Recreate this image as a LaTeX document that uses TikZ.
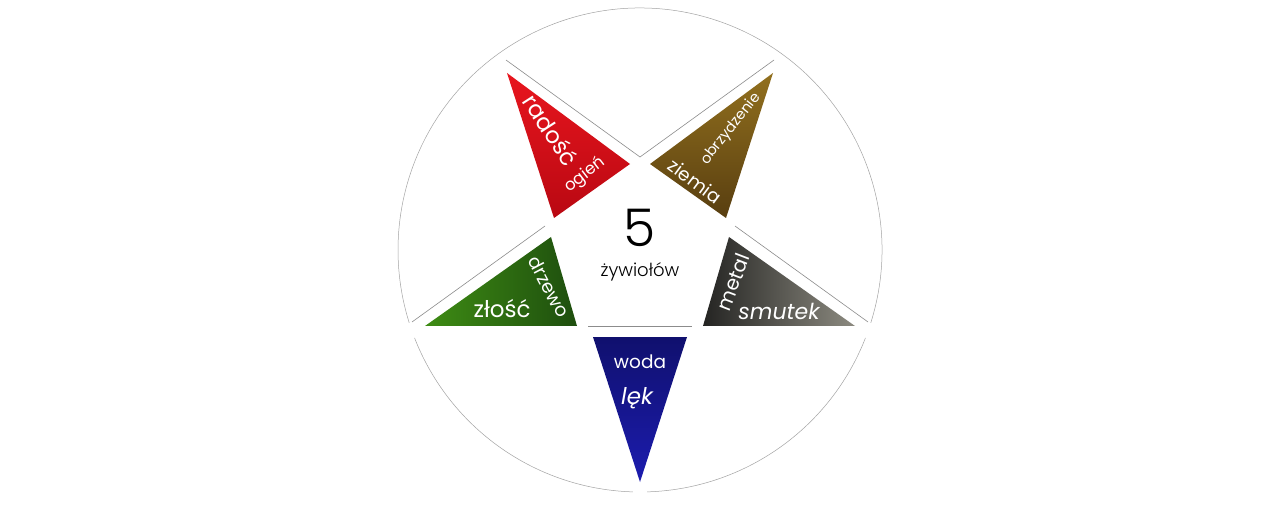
\documentclass[tikz,border=0pt]{standalone}
\usepackage{fontspec}
\setmainfont{Poppins}[UprightFont=* Light, ItalicFont=* Light Italic]
\newfontfamily\lblfont{Poppins}[ItalicFont=* Italic]
\definecolor{redA}{RGB}{232,22,30}
\definecolor{redB}{RGB}{185,8,18}
\definecolor{brnA}{RGB}{146,112,30}
\definecolor{brnB}{RGB}{88,62,16}
\definecolor{grnA}{RGB}{62,140,20}
\definecolor{grnB}{RGB}{30,78,14}
\definecolor{gryA}{RGB}{36,36,34}
\definecolor{gryB}{RGB}{140,138,128}
\definecolor{bluA}{RGB}{16,16,110}
\definecolor{bluB}{RGB}{28,28,175}
\definecolor{edge}{RGB}{140,140,140}
\tikzset{
  ring/.style={draw=edge!80, line width=0.5pt},
  edgeline/.style={draw=edge, line width=0.6pt},
  lbl/.style={text=white, inner sep=0pt},
}
\begin{document}
\begin{tikzpicture}[x=1pt,y=1pt]
\useasboundingbox[fill=white] (0,0) rectangle (1280,512);
% circle arcs with gaps at three tips
\coordinate (c) at (640,262);
\draw[ring] (c) ++(271.7:242pt) arc[start angle=271.7, end angle=338.7, radius=242pt];
\draw[ring] (c) ++(342.5:242pt) arc[start angle=342.5, end angle=557.5, radius=242pt];
\draw[ring] (c) ++(201.3:242pt) arc[start angle=201.3, end angle=268.3, radius=242pt];
% vertices
\coordinate (r1) at (507,439); \coordinate (r2) at (630,348); \coordinate (r3) at (554,294);
\coordinate (b1) at (773,439); \coordinate (b2) at (650,348); \coordinate (b3) at (726,294);
\coordinate (g1) at (551,275); \coordinate (g2) at (425,186); \coordinate (g3) at (577,186);
\coordinate (m1) at (729,275); \coordinate (m2) at (855,186); \coordinate (m3) at (703,186);
\coordinate (w1) at (593,175); \coordinate (w2) at (687,175); \coordinate (w3) at (640,30);
% triangles
\shade[shading angle=30, top color=redA, bottom color=redB] (r1)--(r2)--(r3)--cycle;
\shade[shading angle=-40, top color=brnA, bottom color=brnB] (b1)--(b2)--(b3)--cycle;
\shade[left color=grnA, right color=grnB] (g1)--(g2)--(g3)--cycle;
\shade[left color=gryA, right color=gryB] (m1)--(m2)--(m3)--cycle;
\shade[top color=bluA, bottom color=bluB] (w1)--(w2)--(w3)--cycle;
% edge lines
\coordinate (e1) at (506,452); \coordinate (e2) at (640,355); \coordinate (e3) at (774,452);
\coordinate (e4) at (545,286); \coordinate (e5) at (412,190);
\coordinate (e6) at (735,286); \coordinate (e7) at (868,190);
\coordinate (e8) at (588,186); \coordinate (e9) at (692,186);
\draw[edgeline] (e1) -- (e2) -- (e3);
\draw[edgeline] (e4) -- (e5);
\draw[edgeline] (e6) -- (e7);
\draw[edgeline] (e8) -- (e9);
% labels
\node[lbl, rotate=-57, font=\lblfont\fontsize{23}{23}\selectfont] (radosc) at (551,382) {radość};
\node[lbl, rotate=37.7, font=\lblfont\fontsize{16.5}{16.5}\selectfont] (ogien) at (585,337) {ogień};
\node[lbl, rotate=51.6, font=\lblfont\fontsize{14.5}{14.5}\selectfont] (obrz) at (731,383) {obrzydzenie};
\node[lbl, rotate=-36.5, font=\lblfont\fontsize{18.5}{18.5}\selectfont] (ziemia) at (695,331) {ziemia};
\node[lbl, rotate=-62, font=\lblfont\fontsize{18.5}{18.5}\selectfont] (drzewo) at (549,225) {drzewo};
\node[lbl, anchor=base, font=\lblfont\fontsize{23}{23}\selectfont] (zlosc) at (502,194) {złość};
\node[lbl, rotate=69, font=\lblfont\fontsize{20}{20}\selectfont] (metal) at (733,230) {metal};
\node[lbl, anchor=base, font=\lblfont\fontsize{22}{22}\selectfont\itshape] (smutek) at (779,192) {smutek};
\node[lbl, anchor=base, font=\lblfont\fontsize{18.5}{18.5}\selectfont] (woda) at (640,144) {woda};
\node[lbl, anchor=base, font=\lblfont\fontsize{23}{23}\selectfont\itshape] (lek) at (637,108) {lęk};
\node[inner sep=0pt, anchor=base, font=\fontsize{52}{52}\selectfont] (five) at (640,265) {5};
\node[inner sep=0pt, anchor=base, font=\fontsize{18}{18}\selectfont] (zyw) at (640,235) {żywiołów};
\end{tikzpicture}
\end{document}
